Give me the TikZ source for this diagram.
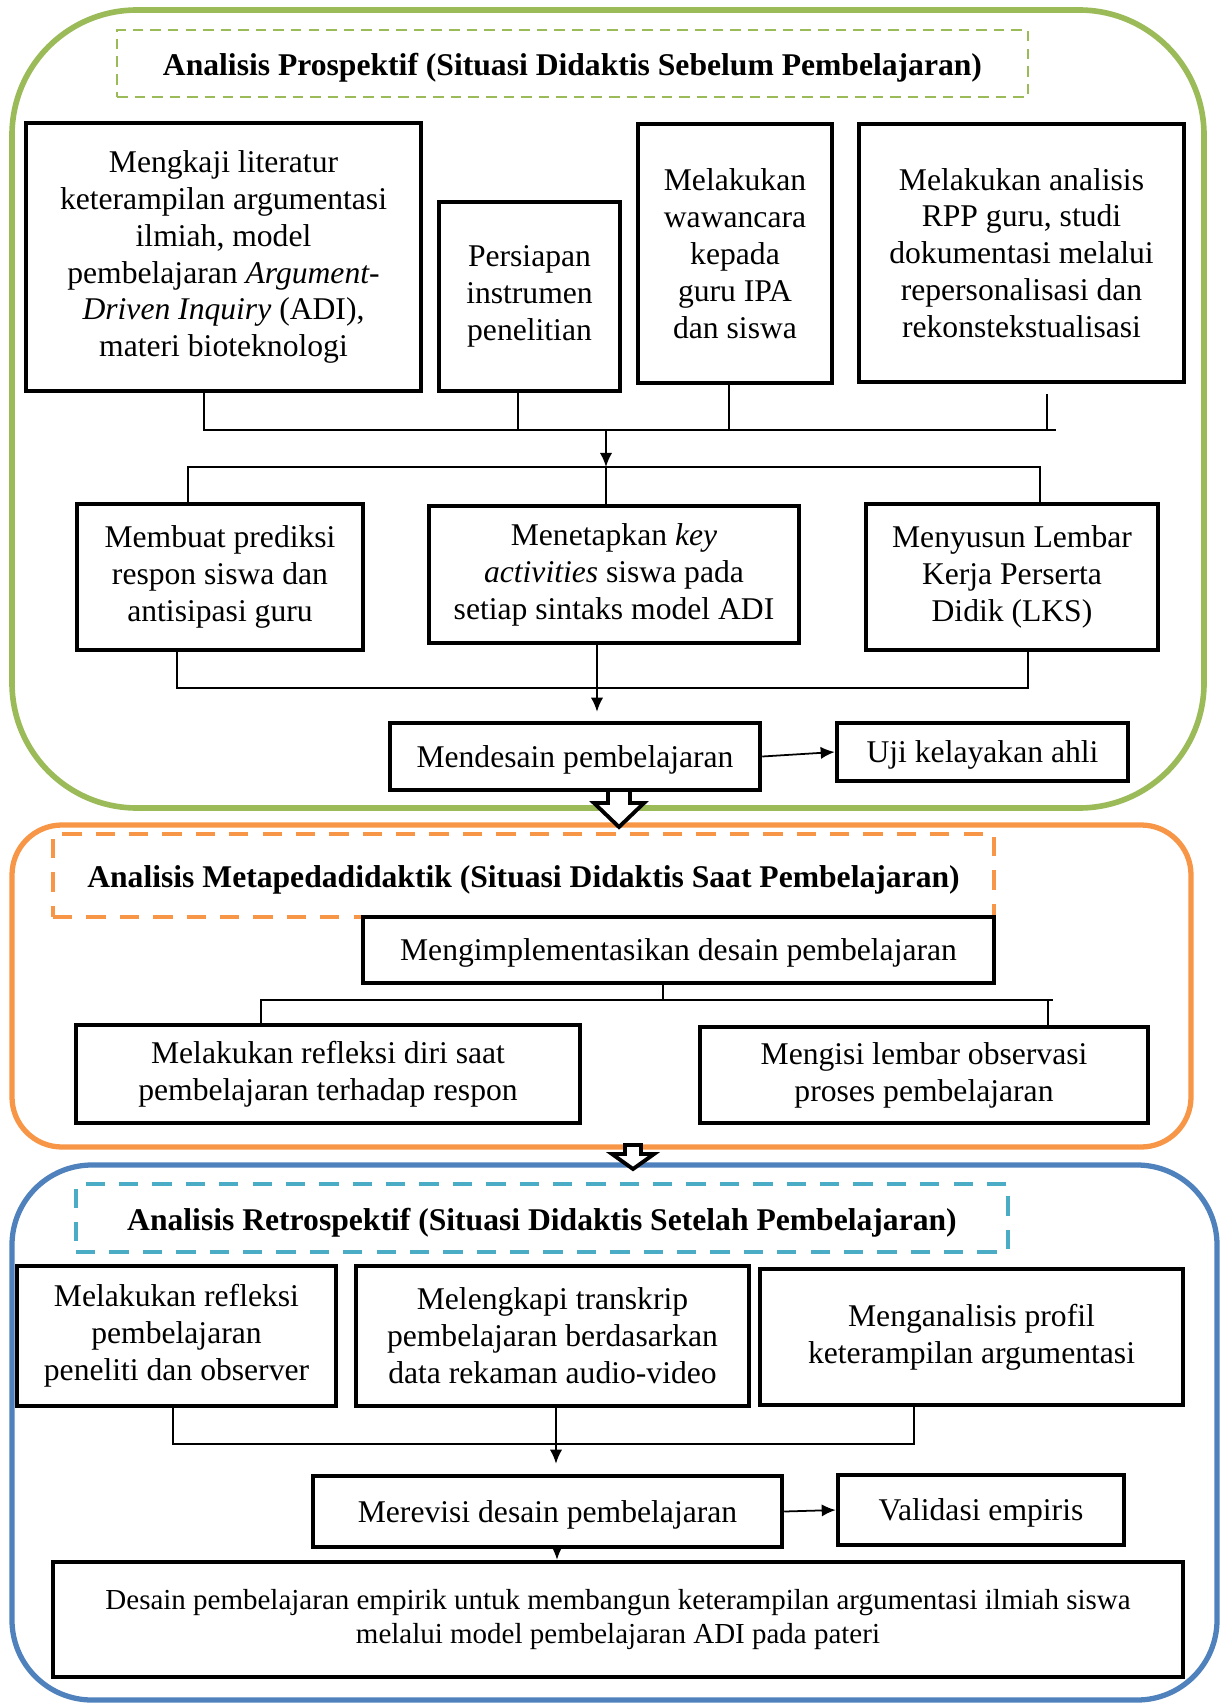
\documentclass[tikz,border=0pt]{standalone}
\usepackage{fontspec}
\setmainfont{Liberation Serif}
\usetikzlibrary{arrows.meta}
\definecolor{frameGreen}{HTML}{9BBB59}
\definecolor{frameOrange}{HTML}{F79646}
\definecolor{frameBlue}{HTML}{4F81BD}
\definecolor{dashTeal}{HTML}{4BACC6}

\begin{document}
\begin{tikzpicture}[x=0.02cm, y=-0.02cm,
   box/.style={draw, line width=2.6pt, fill=white, align=center, inner sep=0pt,
      font=\fontsize{18}{21}\selectfont, execute at begin node={\rule{0pt}{16pt}}},
   headbox/.style={draw, align=center, inner sep=0pt, font=\fontsize{18}{21}\selectfont\bfseries,
      execute at begin node={\rule{0pt}{18pt}}},
   link/.style={line width=1pt},
   arr/.style={link, -{Latex[length=8pt,width=7pt]}},
   hollow/.style={draw, fill=white, line width=2.2pt, line join=miter}]
   \useasboundingbox (0,0) rectangle (1220,1703);
   \draw[frameGreen, line width=3.2pt, rounded corners=2.5cm] (12,10) rectangle (1204,808);
   \draw[frameOrange, line width=3pt, rounded corners=1cm] (12,825) rectangle (1191,1147);
   \draw[frameBlue, line width=3pt, rounded corners=1.6cm] (12,1165) rectangle (1217,1700);
   \node[headbox, frameGreen, line width=1.5pt, dash pattern=on 6pt off 4pt,
      minimum width=18.22cm, minimum height=1.34cm, text=black] (pro) at (572.5,63.5)
      {Analisis Prospektif (Situasi Didaktis Sebelum Pembelajaran)};
   \node[headbox, frameOrange, line width=2.4pt, dash pattern=on 11pt off 8pt,
      minimum width=18.82cm, minimum height=1.66cm, text=black] (meta) at (523.5,875.5)
      {Analisis Metapedadidaktik (Situasi Didaktis Saat Pembelajaran)};
   \node[headbox, dashTeal, line width=2.4pt, dash pattern=on 11pt off 8pt,
      minimum width=18.64cm, minimum height=1.36cm, text=black] (retro) at (542,1218)
      {Analisis Retrospektif (Situasi Didaktis Setelah Pembelajaran)};

   \node[box, minimum width=7.9cm, minimum height=5.36cm] (kaji) at (223.5,257)
      {Mengkaji literatur\\ keterampilan argumentasi\\ ilmiah, model\\
       pembelajaran \textit{Argument-}\\ \textit{Driven Inquiry} (ADI),\\ materi bioteknologi};
   \node[box, minimum width=3.62cm, minimum height=3.78cm] (instr) at (529.5,296.5)
      {Persiapan\\ instrumen\\ penelitian};
   \node[box, minimum width=3.88cm, minimum height=5.18cm] (wawan) at (735,253.5)
      {Melakukan\\ wawancara\\ kepada\\ guru IPA\\ dan siswa};
   \node[box, minimum width=6.5cm, minimum height=5.16cm] (rpp) at (1021.5,253)
      {Melakukan analisis\\ RPP guru, studi\\ dokumentasi melalui\\ repersonalisasi dan\\ rekonstekstualisasi};
   \node[box, minimum width=5.72cm, minimum height=2.92cm] (prediksi) at (220,577)
      {Membuat prediksi\\ respon siswa dan\\ antisipasi guru};
   \node[box, minimum width=7.4cm, minimum height=2.74cm] (keyact) at (614,574.5)
      {Menetapkan \textit{key}\\ \textit{activities} siswa pada\\ setiap sintaks model ADI};
   \node[box, minimum width=5.84cm, minimum height=2.92cm] (lks) at (1012,577)
      {Menyusun Lembar\\ Kerja Perserta\\ Didik (LKS)};
   \node[box, minimum width=7.4cm, minimum height=1.34cm] (desain) at (575,756.5)
      {Mendesain pembelajaran};
   \node[box, minimum width=5.82cm, minimum height=1.16cm] (uji) at (982.5,752)
      {Uji kelayakan ahli};

   \node[box, minimum width=12.62cm, minimum height=1.32cm] (impl) at (678.5,950)
      {Mengimplementasikan desain pembelajaran};
   \node[box, minimum width=10.08cm, minimum height=1.96cm] (refdiri) at (328,1074)
      {Melakukan refleksi diri saat\\ pembelajaran terhadap respon};
   \node[box, minimum width=8.96cm, minimum height=1.92cm] (obs) at (924,1075)
      {Mengisi lembar observasi\\ proses pembelajaran};

   \node[box, minimum width=6.38cm, minimum height=2.8cm] (refpem) at (176.5,1336)
      {Melakukan refleksi\\ pembelajaran\\ peneliti dan observer};
   \node[box, minimum width=7.86cm, minimum height=2.8cm] (transkrip) at (552.5,1336)
      {Melengkapi transkrip\\ pembelajaran berdasarkan\\ data rekaman audio-video};
   \node[box, minimum width=8.46cm, minimum height=2.72cm] (profil) at (971.5,1337)
      {Menganalisis profil\\ keterampilan argumentasi};
   \node[box, minimum width=9.38cm, minimum height=1.42cm] (revisi) at (547.5,1511.5)
      {Merevisi desain pembelajaran};
   \node[box, minimum width=5.72cm, minimum height=1.4cm] (valid) at (981,1510)
      {Validasi empiris};
   \node[box, minimum width=22.6cm, minimum height=2.3cm, font=\fontsize{16.5}{19.5}\selectfont] (hasil) at (618,1619.5)
      {Desain pembelajaran empirik untuk membangun keterampilan argumentasi ilmiah siswa\\
       melalui model pembelajaran ADI pada pateri};

   \coordinate (busA) at (606,430);
   \coordinate (busB) at (606,467);
   \coordinate (busC) at (597,688);
   \coordinate (busD) at (663,1000);
   \coordinate (busE) at (556,1444);
   \coordinate (busAend) at (1056,430);
   \coordinate (busDend) at (1053,1000);

   \draw[link] ([shift={(-19.5,0)}]kaji.south) |- (busA);
   \draw[link] ([shift={(-11.5,0)}]instr.south) |- (busA);
   \draw[link] ([shift={(-6,0)}]wawan.south) |- (busA);
   \draw[link] ([shift={(25.5,10)}]rpp.south) |- (busA);
   \draw[link] (busA) -- (busAend);
   \draw[arr] (busA) -- (busB);
   \draw[link] (busB) -| ([shift={(-32,0)}]prediksi.north);
   \draw[link] (busB) -| ([shift={(28,0)}]lks.north);
   \draw[link] (busB) -- (busB |- keyact.north);
   \draw[link] ([shift={(-43,0)}]prediksi.south) |- (busC) -| ([shift={(16,0)}]lks.south);
   \draw[arr, shorten >=0.18cm] ([shift={(-17,0)}]keyact.south) -- ([shift={(-17,0)}]keyact.south |- desain.north);
   \draw[arr] (desain.east) -- (uji.west);

   \draw[link] ([shift={(-15.5,0)}]impl.south) -- (busD);
   \draw[link] (busD) -| ([shift={(-67,0)}]refdiri.north);
   \draw[link] (busD) -| ([shift={(124,0)}]obs.north);
   \draw[link] (busD) -- (busDend);

   \draw[link] ([shift={(-3.5,0)}]refpem.south) |- (busE) -| ([shift={(-57.5,0)}]profil.south);
   \draw[arr, shorten >=0.2cm] ([shift={(3.5,0)}]transkrip.south) -- ([shift={(3.5,0)}]transkrip.south |- revisi.north);
   \draw[arr] (revisi.east) -- (valid.west);
   \draw[arr] ([shift={(9.5,0)}]revisi.south) -- ([shift={(9.5,0)}]revisi.south |- hasil.north);

   \coordinate (downA) at (619,790);
   \coordinate (downB) at (633,1145);
   \draw[hollow] (downA) ++(-11,0) -- ++(0,13) -- ++(-14,0) -- ++(25,24) -- ++(25,-24)
      -- ++(-14,0) -- ++(0,-13) -- cycle;
   \draw[hollow] (downB) ++(-8,0) -- ++(0,9) -- ++(-13,0) -- ++(21,15) -- ++(21,-15)
      -- ++(-13,0) -- ++(0,-9) -- cycle;
\end{tikzpicture}
\end{document}
